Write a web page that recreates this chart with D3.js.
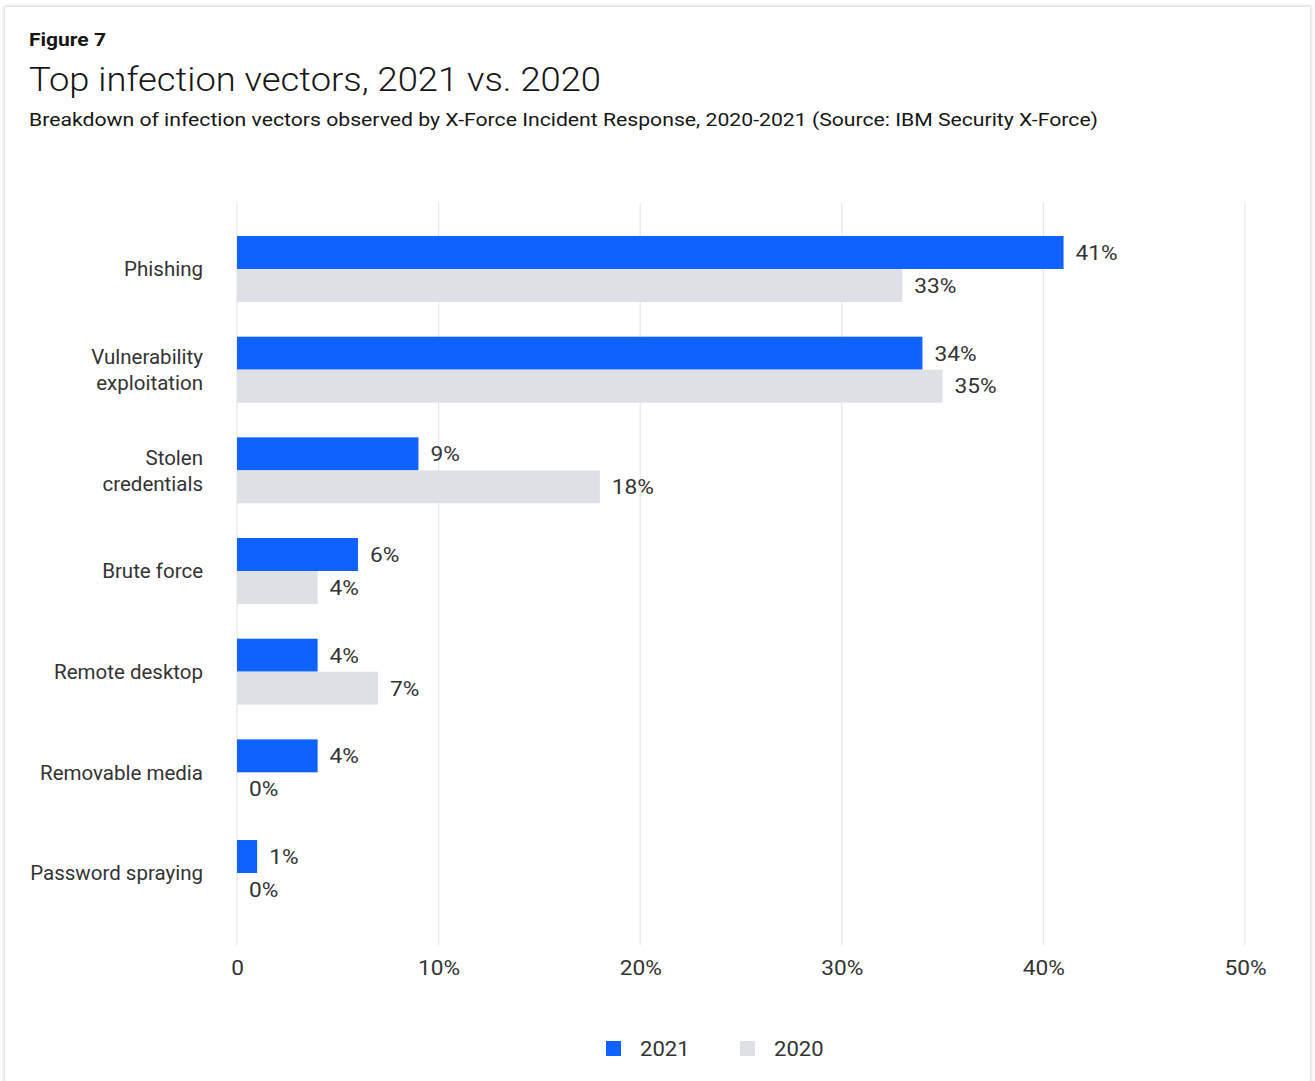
<!DOCTYPE html>
<html>
<head>
<meta charset="utf-8">
<script src="https://cdn.jsdelivr.net/npm/d3@7"></script>
<style>
  html, body { margin: 0; padding: 0; background: #ffffff; }
  svg { display: block; }
</style>
</head>
<body>
<svg id="chart" width="1315" height="1081"></svg>
<script>
// Infection vectors, share of incidents (%)
const categories = [
  ["Phishing"],
  ["Vulnerability", "exploitation"],
  ["Stolen", "credentials"],
  ["Brute force"],
  ["Remote desktop"],
  ["Removable media"],
  ["Password spraying"]
];
const values2021 = [41, 34, 9, 6, 4, 4, 1];
const values2020 = [33, 35, 18, 4, 7, 0, 0];
const seriesNames = ["2021", "2020"];
const seriesColors = ["#0f62fe", "#dde0e4"];
const tickValues = [0, 10, 20, 30, 40, 50];
const tickLabels = ["0", "10%", "20%", "30%", "40%", "50%"];

const svg = d3.select("#chart");
const textColor = "#333333";
const font = "Roboto, 'Noto Sans', sans-serif";

// card frame with a soft edge
const defs = svg.append("defs");
const shadow = defs.append("filter").attr("id", "edge").attr("x", "-5%").attr("y", "-5%").attr("width", "110%").attr("height", "110%");
shadow.append("feGaussianBlur").attr("stdDeviation", 1.5);
svg.append("rect").attr("x", 5).attr("y", 7).attr("width", 1305).attr("height", 1090)
  .attr("fill", "none").attr("stroke", "#c8c8c8").attr("stroke-width", 2).attr("filter", "url(#edge)");
svg.append("rect").attr("x", 5).attr("y", 7).attr("width", 1305).attr("height", 1090)
  .attr("fill", "#ffffff");

// stretch a text element horizontally to an exact width
function fitWidth(sel, w) {
  if (sel.node().getComputedTextLength() > 0) {
    sel.attr("textLength", w).attr("lengthAdjust", "spacingAndGlyphs");
  }
}
// widen each text of a selection by a factor (wider numerals)
function widen(sel, k) {
  sel.each(function () {
    const len = this.getComputedTextLength();
    if (len > 0) d3.select(this).attr("textLength", len * k).attr("lengthAdjust", "spacingAndGlyphs");
  });
}

// headings
svg.append("text").attr("x", 29).attr("y", 46)
  .attr("font-family", font).attr("font-weight", 700).attr("font-size", 19)
  .attr("fill", "#161616").text("Figure 7").call(fitWidth, 77);
svg.append("text").attr("x", 29).attr("y", 91)
  .attr("font-family", font).attr("font-weight", 300).attr("font-size", 33)
  .attr("fill", "#161616").text("Top infection vectors, 2021 vs. 2020").call(fitWidth, 572);
svg.append("text").attr("x", 29).attr("y", 126)
  .attr("font-family", font).attr("font-weight", 400).attr("font-size", 18)
  .attr("fill", "#161616")
  .text("Breakdown of infection vectors observed by X-Force Incident Response, 2020-2021 (Source: IBM Security X-Force)")
  .call(fitWidth, 1069);

// scales
const x = d3.scaleLinear().domain([0, 50]).range([237, 1245]);
const y = d3.scaleBand().domain(d3.range(categories.length))
  .range([203, 939]).paddingInner(0.345).paddingOuter(0.328);
const sub = d3.scaleBand().domain(seriesNames).range([0, y.bandwidth()]);

// vertical gridlines
svg.append("g").selectAll("line").data(tickValues).join("line")
  .attr("x1", d => x(d)).attr("x2", d => x(d))
  .attr("y1", 203).attr("y2", 945)
  .attr("stroke", "#e6e6e6").attr("stroke-width", 1.2);

// x axis tick labels
const xAxis = d3.axisBottom(x).tickValues(tickValues)
  .tickFormat((d, i) => tickLabels[i]).tickSize(0).tickPadding(0);
const gx = svg.append("g").attr("transform", "translate(0,960)").call(xAxis);
gx.select(".domain").remove();
gx.selectAll("text").attr("font-family", font).attr("font-size", 21)
  .attr("fill", textColor).attr("dy", "0.71em").call(widen, 1.08);

// category labels
const catG = svg.append("g");
categories.forEach((lines, i) => {
  const cy = y(i) + y.bandwidth() / 2;
  const lh = 26;
  const t = catG.append("text")
    .attr("x", 203).attr("text-anchor", "end")
    .attr("font-family", font).attr("font-size", 20.5).attr("fill", textColor);
  lines.forEach((ln, j) => {
    t.append("tspan").attr("x", 203)
      .attr("y", cy + (j - (lines.length - 1) / 2) * lh)
      .attr("dy", "0.35em").text(ln);
  });
});

// bars and value labels
const series = [values2021, values2020];
series.forEach((vals, s) => {
  const g = svg.append("g");
  g.selectAll("rect").data(vals).join("rect")
    .attr("x", x(0))
    .attr("y", (d, i) => y(i) + sub(seriesNames[s]))
    .attr("width", d => x(d) - x(0))
    .attr("height", sub.bandwidth())
    .attr("fill", seriesColors[s]);
  g.selectAll("text").data(vals).join("text")
    .attr("x", d => x(d) + 12)
    .attr("y", (d, i) => y(i) + sub(seriesNames[s]) + sub.bandwidth() / 2)
    .attr("dy", "0.35em")
    .attr("font-family", font).attr("font-size", 21).attr("fill", textColor)
    .text(d => d + "%")
    .call(widen, 1.08);
});

// legend
const legend = svg.append("g").attr("transform", "translate(606,1041)");
const legendX = [0, 134];
seriesNames.forEach((name, i) => {
  legend.append("rect").attr("x", legendX[i]).attr("y", 0)
    .attr("width", 15).attr("height", 15).attr("fill", seriesColors[i]);
  legend.append("text").attr("x", legendX[i] + 34).attr("y", 7.5).attr("dy", "0.35em")
    .attr("font-family", font).attr("font-size", 21).attr("fill", textColor)
    .text(name).call(widen, 1.05);
});
</script>
</body>
</html>
